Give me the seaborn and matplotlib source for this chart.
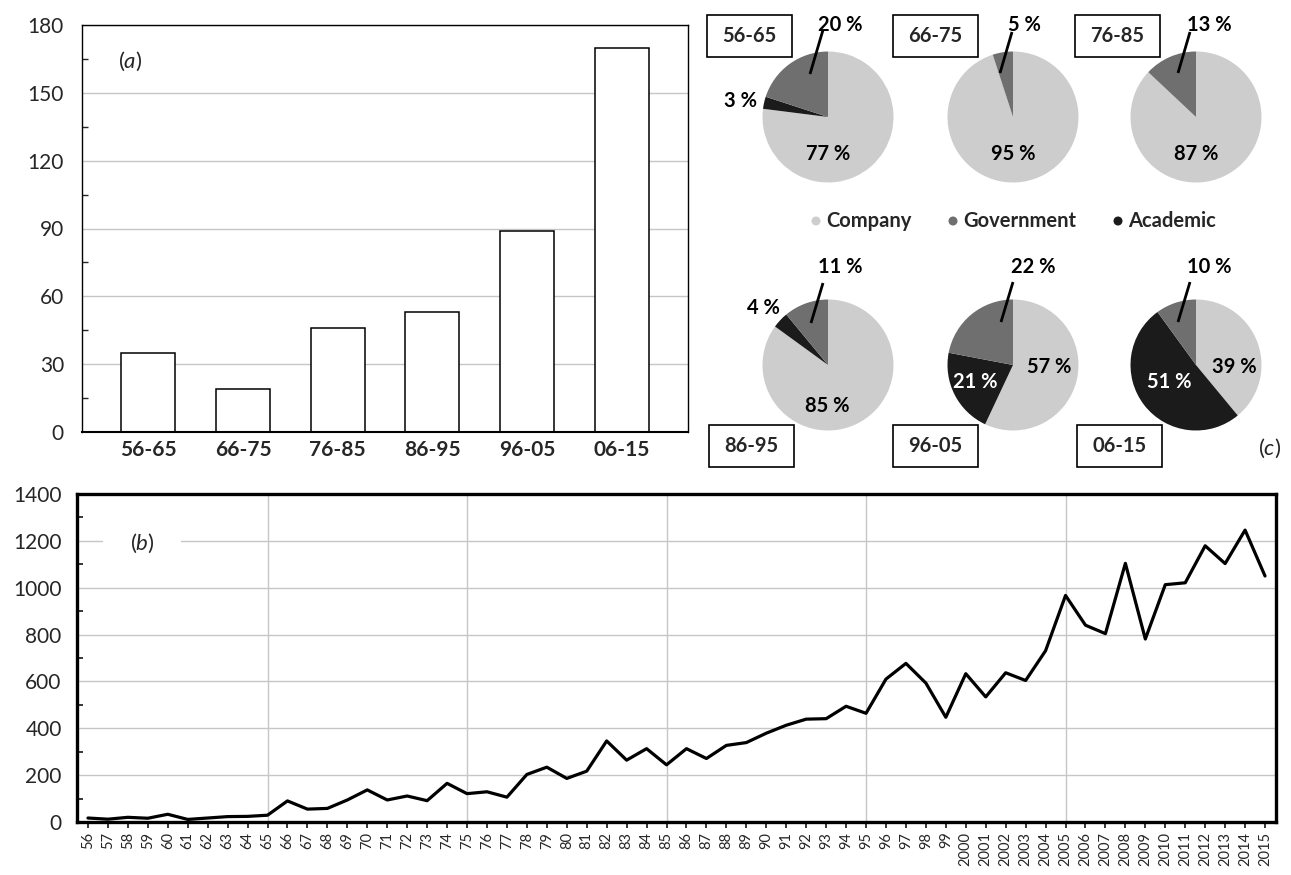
import numpy as np
import matplotlib
matplotlib.use("Agg")
import matplotlib.pyplot as plt
from matplotlib.patches import Rectangle
from matplotlib.ticker import MultipleLocator
import seaborn as sns

# ---- data -------------------------------------------------------------
periods = ["56-65", "66-75", "76-85", "86-95", "96-05", "06-15"]
period_counts = [35, 19, 46, 53, 89, 170]

company_pct = [77, 95, 87, 85, 57, 39]
government_pct = [20, 5, 13, 11, 22, 10]
academic_pct = [3, 0, 0, 4, 21, 51]

year_labels = ["56", "57", "58", "59", "60", "61", "62", "63", "64", "65",
               "66", "67", "68", "69", "70", "71", "72", "73", "74", "75",
               "76", "77", "78", "79", "80", "81", "82", "83", "84", "85",
               "86", "87", "88", "89", "90", "91", "92", "93", "94", "95",
               "96", "97", "98", "99", "2000", "2001", "2002", "2003", "2004",
               "2005", "2006", "2007", "2008", "2009", "2010", "2011", "2012",
               "2013", "2014", "2015"]
yearly_counts = [17, 12, 20, 16, 33, 11, 17, 23, 24, 29,
                 90, 55, 58, 94, 137, 94, 111, 91, 165, 121,
                 129, 106, 203, 234, 186, 217, 346, 264, 313, 244,
                 313, 271, 327, 339, 379, 413, 439, 441, 494, 464,
                 610, 677, 593, 447, 633, 534, 637, 604, 731,
                 967, 840, 804, 1104, 781, 1013, 1021, 1179,
                 1103, 1246, 1050]
decade_marks = ["65", "75", "85", "95", "2005"]

sector_names = ["Company", "Government", "Academic"]
sector_colors = {"Company": "#cdcdcd", "Government": "#6f6f6f", "Academic": "#1b1b1b"}

# ---- style ------------------------------------------------------------
sns.set_style("white")
plt.rcParams["font.family"] = ["Lato", "DejaVu Sans"]
plt.rcParams["mathtext.fontset"] = "custom"
plt.rcParams["mathtext.rm"] = "Lato"
plt.rcParams["mathtext.it"] = "Lato:italic"

W, H = 1291, 875
fig = plt.figure(figsize=(W / 100, H / 100), dpi=100)
GRID = "#c6c6c6"
LABEL_FS = 14.5


def frac(left, top, right, bottom):
    return [left / W, 1 - bottom / H, (right - left) / W, (bottom - top) / H]


# ---- (a) counts per decade ---------------------------------------------
ax_a = fig.add_axes(frac(82, 25, 688, 432))
sns.barplot(x=periods, y=period_counts, color="white", saturation=1,
            edgecolor="black", linewidth=1.1, width=0.57, ax=ax_a)
ax_a.set_xlim(-0.7, len(periods) - 0.3)
ax_a.set_ylim(0, 180)
ax_a.set_xlabel("")
ax_a.set_ylabel("")
ax_a.yaxis.set_major_locator(MultipleLocator(30))
ax_a.yaxis.set_minor_locator(MultipleLocator(15))
ax_a.grid(axis="y", which="major", color=GRID, lw=1.0)
ax_a.set_axisbelow(True)
ax_a.tick_params(axis="y", which="major", left=False, length=0, pad=13, labelsize=15)
ax_a.tick_params(axis="y", which="minor", left=True, direction="in", length=4, width=1.0)
ax_a.tick_params(axis="x", bottom=False, length=0, pad=6, labelsize=15)
for lbl in ax_a.get_xticklabels():
    lbl.set_fontweight("bold")
for side, sp in ax_a.spines.items():
    sp.set_visible(True)
    sp.set_color("black")
    sp.set_linewidth(1.5 if side == "bottom" else 1.0)

# ---- (b) yearly counts ---------------------------------------------------
ax_b = fig.add_axes(frac(77, 494, 1276, 822))
x_pos = np.arange(len(year_labels))
sns.lineplot(x=x_pos, y=yearly_counts, color="black", linewidth=2.3, ax=ax_b)
ax_b.set_xlim(-0.55, len(year_labels) - 0.45)
ax_b.set_ylim(0, 1400)
ax_b.set_xlabel("")
ax_b.set_ylabel("")
ax_b.set_xticks(x_pos)
ax_b.set_xticklabels(year_labels, rotation=90, fontsize=10.5)
ax_b.yaxis.set_major_locator(MultipleLocator(200))
ax_b.yaxis.set_minor_locator(MultipleLocator(100))
ax_b.grid(axis="y", which="major", color=GRID, lw=1.0)
for mark in decade_marks:
    ax_b.axvline(year_labels.index(mark), color=GRID, lw=1.0, zorder=0)
ax_b.set_axisbelow(True)
ax_b.tick_params(axis="y", which="major", left=False, length=0, pad=11, labelsize=15)
ax_b.tick_params(axis="y", which="minor", left=True, direction="in", length=4, width=1.3)
ax_b.tick_params(axis="x", bottom=True, direction="out", length=4, width=1.3, pad=3)
for sp in ax_b.spines.values():
    sp.set_visible(True)
    sp.set_color("black")
    sp.set_linewidth(2.4)

# ---- (c) sector shares, drawn on a pixel-space overlay -------------------
ov = fig.add_axes([0, 0, 1, 1])
ov.patch.set_alpha(0)

centers = [(828, 117), (1013, 117), (1196, 117),
           (828, 365), (1013, 365), (1196, 365)]
RADIUS = 65.5

boxes = [(707, 15), (893, 15), (1075, 15), (709, 425), (893, 425), (1077, 425)]
BOX_W, BOX_H = 85, 42

gov_label_off = [(12, -92), (11, -92), (13, -92), (12, -98), (20, -98), (13, -98)]
gov_leader = [((-18, -43), (-5, -87)), ((-13, -44), (-1, -85)), ((-18, -44), (-6, -85)),
              ((-17, -42), (-5, -82)), ((-12, -43), (0, -83)), ((-18, -43), (-6, -83))]
comp_label_off = [(0, 37), (0, 37), (0, 37), (-1, 41), (36, 2), (38, 2)]
acad_label_off = [(-87, -16), None, None, (-65, -57), (-38, 17), (-27, 17)]
acad_inside = [False, False, False, False, True, True]

for i, (cx, cy) in enumerate(centers):
    vals = [company_pct[i], academic_pct[i], government_pct[i]]
    cols = [sector_colors["Company"], sector_colors["Academic"], sector_colors["Government"]]
    ov.pie(vals, colors=cols, startangle=90, counterclock=False, radius=RADIUS,
           center=(cx, H - cy), wedgeprops=dict(linewidth=0))

    # company share
    dx, dy = comp_label_off[i]
    ov.text(cx + dx, H - (cy + dy), f"{company_pct[i]} %", ha="center", va="center",
            fontsize=LABEL_FS, fontweight="bold", color="black")
    # government share with leader line
    dx, dy = gov_label_off[i]
    ov.text(cx + dx, H - (cy + dy), f"{government_pct[i]} %", ha="center", va="center",
            fontsize=LABEL_FS, fontweight="bold", color="black")
    (a0, b0), (a1, b1) = gov_leader[i]
    ov.plot([cx + a0, cx + a1], [H - (cy + b0), H - (cy + b1)], color="black", lw=2.0,
            solid_capstyle="butt")
    # academic share
    if academic_pct[i] > 0:
        dx, dy = acad_label_off[i]
        ov.text(cx + dx, H - (cy + dy), f"{academic_pct[i]} %", ha="center", va="center",
                fontsize=LABEL_FS, fontweight="bold",
                color="white" if acad_inside[i] else "black")

    # period box
    bx, by = boxes[i]
    ov.add_patch(Rectangle((bx, H - by - BOX_H), BOX_W, BOX_H, fill=False,
                           edgecolor="black", lw=1.2))
    ov.text(bx + BOX_W / 2, H - by - BOX_H / 2, periods[i], ha="center", va="center",
            fontsize=LABEL_FS, fontweight="bold")

# legend between the two rows of pies
legend_x = {"Company": 816, "Government": 953, "Academic": 1118}
for name in sector_names:
    lx = legend_x[name]
    ov.scatter([lx], [H - 221], s=42, color=sector_colors[name], edgecolors="none")
    ov.text(lx + 10, H - 221, name, ha="left", va="center", fontsize=LABEL_FS,
            fontweight="bold")

# panel tags
ov.text(130, H - 61, r"($\mathit{a}$)", ha="center", va="center", fontsize=16)
ov.text(142, H - 543, r"($\mathit{b}$)", ha="center", va="center", fontsize=16,
        bbox=dict(facecolor="white", edgecolor="none", boxstyle="square,pad=1.2"))
ov.text(1270, H - 448, r"($\mathit{c}$)", ha="center", va="center", fontsize=16)

ov.set_xlim(0, W)
ov.set_ylim(0, H)
ov.set_aspect("auto")
ov.axis("off")

fig.savefig("out.png", dpi=100)
